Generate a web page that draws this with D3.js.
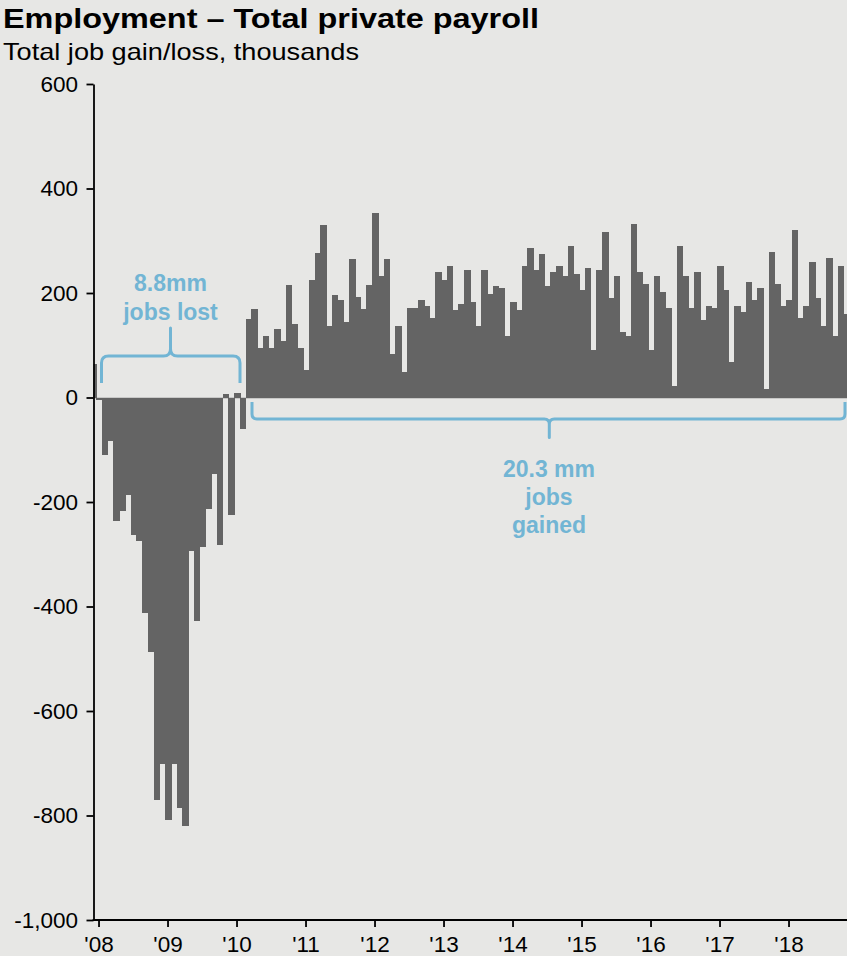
<!DOCTYPE html>
<html><head><meta charset="utf-8">
<script src="https://cdn.jsdelivr.net/npm/d3@7"></script>
<style>
html,body{margin:0;padding:0;background:#e7e7e5;}
svg{display:block;font-family:"Liberation Sans",Arial,Helvetica,sans-serif;}
</style></head><body>
<svg id="chart" width="847" height="956"></svg>
<script>
// Months: Dec 2007 .. Nov 2018
const startMonth = new Date(2007, 11, 1);
const endMonth = new Date(2018, 11, 1);
const months = d3.timeMonth.range(startMonth, endMonth);

// Monthly change in private payrolls, thousands
const values = [
  64,                                                               // Dec 2007
  -5, -111, -84, -236, -217, -187, -263, -274, -412, -487, -770, -702, // 2008
  -808, -702, -785, -820, -294, -428, -286, -213, -146, -282, 6, -225, // 2009
  8, -61, 151, 170, 94, 117, 94, 132, 109, 216, 140, 94,              // 2010
  52, 224, 277, 331, 136, 197, 186, 144, 266, 193, 170, 216,          // 2011
  354, 232, 266, 83, 137, 49, 171, 171, 187, 175, 152, 240,           // 2012
  225, 252, 168, 179, 244, 183, 137, 244, 198, 213, 210, 118,         // 2013
  183, 168, 252, 286, 244, 275, 213, 240, 252, 232, 290, 236,         // 2014
  206, 248, 91, 244, 317, 190, 232, 125, 118, 332, 240, 217,          // 2015
  91, 232, 202, 171, 22, 290, 232, 171, 240, 148, 175, 171,           // 2016
  252, 206, 68, 175, 164, 221, 187, 210, 16, 278, 217, 175,           // 2017
  187, 320, 152, 175, 259, 190, 137, 267, 118, 252, 160               // 2018
];

const yTicks = [600, 400, 200, 0, -200, -400, -600, -800, -1000];
const xTickYears = [2008, 2009, 2010, 2011, 2012, 2013, 2014, 2015, 2016, 2017, 2018];
const xTickLabels = ["'08", "'09", "'10", "'11", "'12", "'13", "'14", "'15", "'16", "'17", "'18"];

const title = "Employment \u2013 Total private payroll";
const subtitle = "Total job gain/loss, thousands";
const lostLabel = ["8.8mm", "jobs lost"];
const gainedLabel = ["20.3 mm", "jobs", "gained"];

const data = months.map((m, i) => ({date: m, value: values[i]}));

const svg = d3.select("#chart");
const W = 847, H = 956;
const axisX = 93.5, plotRight = 847, plotTop = 84, plotBottom = 920;
const blue = "#72b5d4";

svg.append("rect").attr("width", W).attr("height", H).attr("fill", "#e7e7e5");

const x = d3.scaleBand()
  .domain(months.map(d => +d))
  .range([90.4, 90.4 + months.length * 5.75])
  .paddingInner(0).paddingOuter(0);
const y = d3.scaleLinear().domain([-1000, 600]).range([plotBottom, plotTop]);

// title / subtitle
svg.append("text").attr("x", 3).attr("y", 28)
  .attr("font-size", 27).attr("font-weight", "bold").attr("fill", "#000")
  .attr("textLength", 536).attr("lengthAdjust", "spacingAndGlyphs")
  .text(title);
svg.append("text").attr("x", 3).attr("y", 59.5)
  .attr("font-size", 24).attr("fill", "#000")
  .attr("textLength", 356).attr("lengthAdjust", "spacingAndGlyphs")
  .text(subtitle);

// clip
svg.append("clipPath").attr("id", "plotclip").append("rect")
  .attr("x", axisX).attr("y", plotTop).attr("width", plotRight - axisX).attr("height", plotBottom - plotTop);

// zero line
svg.append("line")
  .attr("x1", axisX).attr("x2", plotRight)
  .attr("y1", y(0) + 0.5).attr("y2", y(0) + 0.5)
  .attr("stroke", "#a9a9a9").attr("stroke-width", 1.2);

// bars
svg.append("g").attr("clip-path", "url(#plotclip)")
  .selectAll("rect").data(data).join("rect")
  .attr("x", d => x(+d.date))
  .attr("width", x.bandwidth() + 0.6)
  .attr("y", d => y(Math.max(0, d.value)))
  .attr("height", d => Math.abs(y(d.value) - y(0)))
  .attr("fill", "#646464")
  .attr("shape-rendering", "crispEdges");

// y axis
const yAxis = svg.append("g").attr("transform", `translate(${axisX},0)`)
  .call(d3.axisLeft(y).tickValues(yTicks).tickSize(7).tickSizeOuter(0).tickPadding(8.5)
    .tickFormat(d => d3.format(",")(d).replace("\u2212", "-")));
yAxis.select(".domain").attr("stroke", "#000").attr("stroke-width", 1.8);
yAxis.selectAll(".tick line").attr("stroke", "#000").attr("stroke-width", 1.8);
yAxis.selectAll("text").attr("font-size", 22.5).attr("fill", "#000")
  .attr("font-family", "'Liberation Sans', Arial, sans-serif");

// x axis (ticks at January bars)
const janDates = xTickYears.map(yr => +new Date(yr, 0, 1));
const xAxis = svg.append("g").attr("transform", `translate(0,${plotBottom})`)
  .call(d3.axisBottom(x).tickValues(janDates).tickSize(7).tickSizeOuter(0).tickPadding(9)
    .tickFormat((d, i) => xTickLabels[i]));
xAxis.select(".domain").remove();
xAxis.selectAll(".tick line").attr("stroke", "#000").attr("stroke-width", 1.8);
xAxis.selectAll("text").attr("font-size", 22.5).attr("fill", "#000")
  .attr("font-family", "'Liberation Sans', Arial, sans-serif");
svg.append("line").attr("x1", axisX - 0.9).attr("x2", plotRight)
  .attr("y1", plotBottom).attr("y2", plotBottom)
  .attr("stroke", "#000").attr("stroke-width", 1.8);

// braces
function brace(x1, x2, yl, yEnd, xm, yTip, r) {
  const s = Math.sign(yEnd - yl);      // direction of ends
  const t = -s;                        // direction of tip
  return `M${x1},${yEnd} V${yl + s * r} Q${x1},${yl} ${x1 + r},${yl} H${xm - r} ` +
         `Q${xm},${yl} ${xm},${yl + t * r} V${yTip} V${yl + t * r} ` +
         `Q${xm},${yl} ${xm + r},${yl} H${x2 - r} Q${x2},${yl} ${x2},${yl + s * r} V${yEnd}`;
}
const lostStart = x(+months[2]), lostEnd = x(+months[26]);
const gainStart = x(+months[27]);
svg.append("path")
  .attr("d", brace(101.5, 240, 356, 383, 170.5, 328, 7))
  .attr("fill", "none").attr("stroke", blue).attr("stroke-width", 3).attr("stroke-linejoin", "round");
svg.append("path")
  .attr("d", brace(252, 845, 419, 402, 549.3, 437.5, 5))
  .attr("fill", "none").attr("stroke", blue).attr("stroke-width", 3).attr("stroke-linejoin", "round");

// annotation text
const ann = svg.append("g").attr("fill", blue).attr("font-weight", "bold")
  .attr("font-size", 23).attr("text-anchor", "middle");
lostLabel.forEach((t, i) => ann.append("text").attr("x", 170.5).attr("y", 290.7 + i * 29.3).text(t));
gainedLabel.forEach((t, i) => ann.append("text").attr("x", 549).attr("y", 477 + i * 28).text(t));
</script>
</body></html>
